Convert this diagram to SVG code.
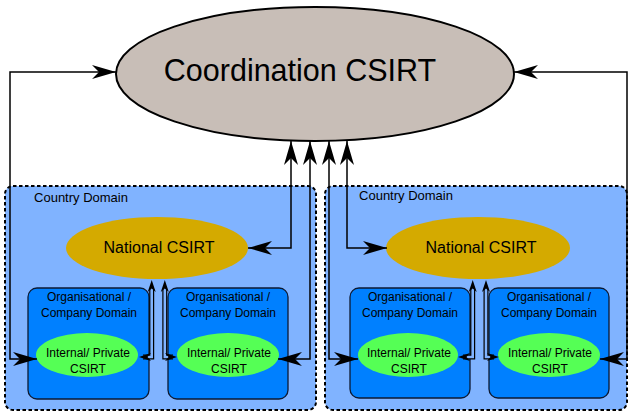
<svg xmlns="http://www.w3.org/2000/svg" width="629" height="414" viewBox="0 0 629 414">
<style>
text{font-family:"Liberation Sans",Arial,sans-serif;fill:#000;text-anchor:middle}
.dom{fill:#80b3ff;stroke:#000;stroke-width:2;stroke-dasharray:3.5 2.5}
.org{fill:#0080ff;stroke:#0d1a33;stroke-width:1.3}
.nat{fill:#d4aa00}
.int{fill:#55ff55}
.c{fill:none;stroke:#000;stroke-width:1.5}
.case{fill:none;stroke:#000;stroke-width:5}
.fill{fill:none;stroke:#80b3ff;stroke-width:2.6}
.s12{font-size:12px}
.cd{font-size:13px}
</style>
<defs>
<marker id="big" viewBox="-25 -8 26 16" markerWidth="26" markerHeight="16" refX="0" refY="0" orient="auto-start-reverse" markerUnits="userSpaceOnUse">
<path d="M0,0 L-24,-7 L-17,0 L-24,7 Z" fill="#000"/>
</marker>
<marker id="sm" viewBox="-13 -5 14 10" markerWidth="14" markerHeight="10" refX="0" refY="0" orient="auto-start-reverse" markerUnits="userSpaceOnUse">
<path d="M0,0 L-12,-4 L-8.5,0 L-12,4 Z" fill="#000"/>
</marker>
</defs>
<rect width="629" height="414" fill="#fff"/>

<g id="country-left">
<rect class="dom" x="5" y="186" width="311" height="224" rx="8"/>
<text class="cd" x="81" y="202">Country Domain</text>
</g>
<g id="country-right">
<rect class="dom" x="325" y="186" width="302" height="224" rx="8"/>
<text class="cd" x="406" y="200">Country Domain</text>
</g>

<g id="coordination">
<ellipse cx="315" cy="74" rx="199" ry="67" fill="#c8beb7" stroke="#000" stroke-width="2"/>
<text x="300" y="81" style="font-size:30.5px">Coordination CSIRT</text>
</g>

<g id="national-left">
<ellipse class="nat" cx="157" cy="248" rx="91" ry="31"/>
<text x="159" y="253" style="font-size:16px">National CSIRT</text>
</g>
<g id="national-right">
<ellipse class="nat" cx="478" cy="248" rx="92" ry="31"/>
<text x="481" y="253" style="font-size:16px">National CSIRT</text>
</g>

<g id="org1">
<rect class="org" x="28" y="288" width="121" height="111" rx="9"/>
<text class="s12" x="89" y="301">Organisational /</text>
<text class="s12" x="89" y="317">Company Domain</text>
</g>
<g id="org2">
<rect class="org" x="168" y="288" width="120" height="111" rx="9"/>
<text class="s12" x="228" y="301">Organisational /</text>
<text class="s12" x="228" y="317">Company Domain</text>
</g>
<g id="org3">
<rect class="org" x="350" y="288" width="120" height="110" rx="9"/>
<text class="s12" x="410" y="301">Organisational /</text>
<text class="s12" x="410" y="317">Company Domain</text>
</g>
<g id="org4">
<rect class="org" x="489" y="288" width="120" height="110" rx="9"/>
<text class="s12" x="549" y="301">Organisational /</text>
<text class="s12" x="549" y="317">Company Domain</text>
</g>

<g id="internal1">
<ellipse class="int" cx="87" cy="355" rx="51" ry="22"/>
<text class="s12" x="88" y="357">Internal/ Private</text>
<text class="s12" x="88" y="373">CSIRT</text>
</g>
<g id="internal2">
<ellipse class="int" cx="228" cy="355" rx="51" ry="22"/>
<text class="s12" x="229" y="357">Internal/ Private</text>
<text class="s12" x="229" y="373">CSIRT</text>
</g>
<g id="internal3">
<ellipse class="int" cx="408" cy="355" rx="50" ry="22"/>
<text class="s12" x="409" y="357">Internal/ Private</text>
<text class="s12" x="409" y="373">CSIRT</text>
</g>
<g id="internal4">
<ellipse class="int" cx="549" cy="355" rx="51" ry="22"/>
<text class="s12" x="550" y="357">Internal/ Private</text>
<text class="s12" x="550" y="373">CSIRT</text>
</g>

<g id="connectors">
<path class="c" d="M37,359 H10 V72 H116" marker-start="url(#big)" marker-end="url(#big)"/>
<path class="c" d="M600,359 H627 V72 H514" marker-start="url(#big)" marker-end="url(#big)"/>
<path class="c" d="M248,248 H291 V141" marker-start="url(#big)" marker-end="url(#big)"/>
<path class="c" d="M387,248 H347 V141" marker-start="url(#big)" marker-end="url(#big)"/>
<path class="c" d="M278,359 H310 V141" marker-start="url(#big)" marker-end="url(#big)"/>
<path class="c" d="M358,359 H329 V141" marker-start="url(#big)" marker-end="url(#big)"/>
<path class="case" d="M143,357 H151.7 V289"/>
<path class="fill" d="M143,357 H151.7 V289"/>
<path d="M139,357 H151.7 V280" fill="none" stroke="none" marker-start="url(#sm)" marker-end="url(#sm)"/>
<path class="case" d="M173,357 H164.8 V289"/>
<path class="fill" d="M173,357 H164.8 V289"/>
<path d="M177,357 H164.8 V280" fill="none" stroke="none" marker-start="url(#sm)" marker-end="url(#sm)"/>
<path class="case" d="M463,357 H472.7 V289"/>
<path class="fill" d="M463,357 H472.7 V289"/>
<path d="M458,357 H472.7 V280" fill="none" stroke="none" marker-start="url(#sm)" marker-end="url(#sm)"/>
<path class="case" d="M494,357 H486 V289"/>
<path class="fill" d="M494,357 H486 V289"/>
<path d="M499,357 H486 V280" fill="none" stroke="none" marker-start="url(#sm)" marker-end="url(#sm)"/>
</g>
</svg>
